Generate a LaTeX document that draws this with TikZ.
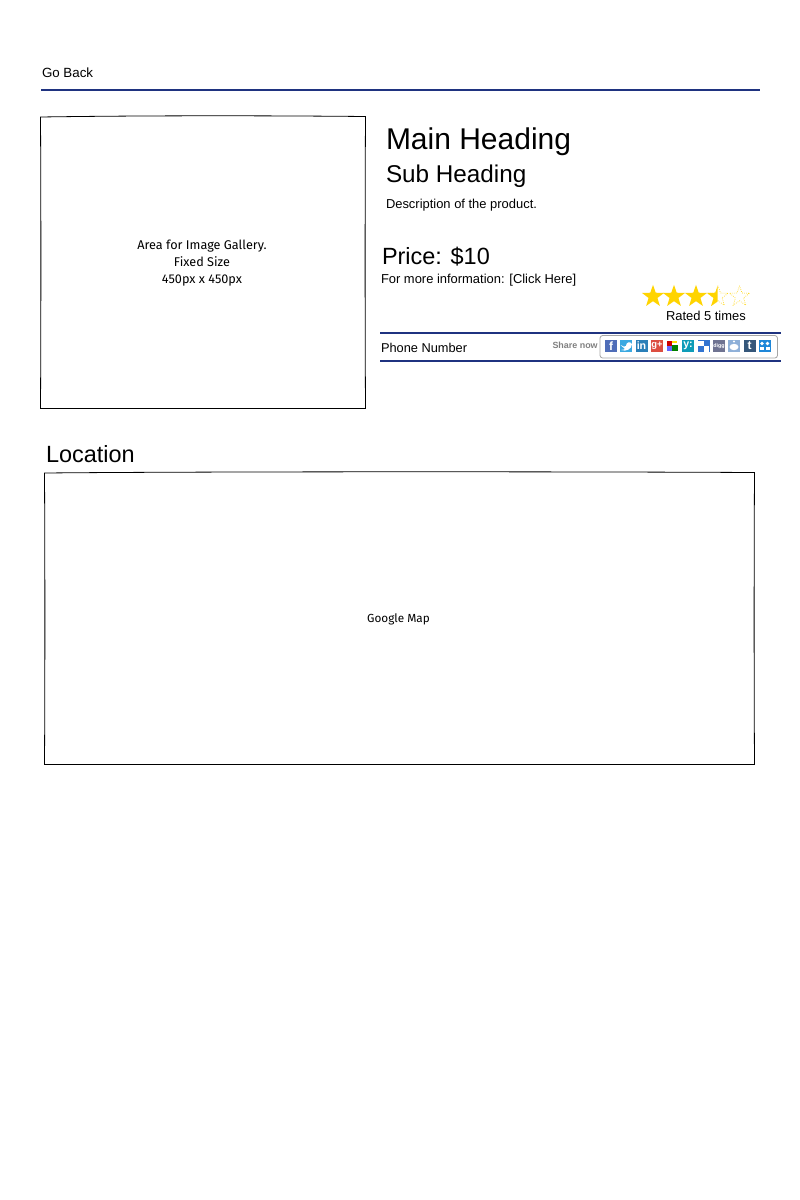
\documentclass[tikz,border=0pt]{standalone}
\usepackage{fontspec}
\setmainfont{Liberation Sans}
\newfontfamily\sketchfont{Fira Sans}
\usetikzlibrary{shapes.geometric}
\definecolor{rulecol}{HTML}{1F3380}
\definecolor{stargold}{HTML}{FFD400}
\tikzset{
  textlabel/.style={inner sep=0pt,outer sep=0pt,anchor=base west,text=black},
  sized/.style={textlabel,font=\fontsize{#1}{#1}\selectfont},
  sketch/.style={inner sep=0pt,align=center,font=\sketchfont\fontsize{#1}{12.8}\selectfont},
  rulebar/.style={draw=rulecol,line width=1.5pt},
  ratestar/.style={star,star points=5,star point ratio=2.5,minimum size=17.5pt,inner sep=0pt,outer sep=0pt},
  emptystar/.style={ratestar,draw=stargold,densely dotted,line width=0.5pt,minimum size=16pt},
  icon/.style={minimum size=9pt,inner sep=0pt,outer sep=0pt,text=white,font=\bfseries\fontsize{#1}{#1}\selectfont},
}
\begin{document}
\begin{tikzpicture}[x=0.75pt,y=-0.75pt]
  \useasboundingbox (0,0) rectangle (800,1200);
  \fill[white] (0,0) rectangle (800,1200);

  % header
  \node[sized=10] (goback) at (42,77) {Go Back};
  \draw[rulebar] (41,90) -- (760,90);

  % gallery box
  \draw[black,line width=0.6pt] (40.5,117) .. controls (140,115.5) and (260,115.5) .. (365.5,116.5)
    .. controls (365,200) and (365,320) .. (365.5,408.5) -- (40.5,408.5)
    .. controls (41,320) and (41,200) .. (40.5,117) -- cycle;
  \node[sketch=9.5] (gallery) at (202,263.5) {Area for Image Gallery.\\Fixed Size\\450px x 450px};

  % product text
  \node[sized=22.5] (mainhead) at (386,149) {Main Heading};
  \node[sized=18.2] (subhead) at (386,182) {Sub Heading};
  \node[sized=9.7] (descr) at (386,208) {Description of the product.};
  \node[sized=17.6] (price) at (382,264) {Price: \$10};
  \node[sized=9.7] (moreinfo) at (381,283) {For more information: [Click Here]};

  % rating
  \foreach \sx in {653,674,696} {
    \node[ratestar,fill=stargold] (star\sx) at (\sx,296.5) {};
  }
  \node[emptystar] (star718) at (718,296.5) {};
  \begin{scope}
    \clip (700,280) rectangle (717.5,312);
    \node[ratestar,fill=stargold] (halfstar) at (718,296.5) {};
  \end{scope}
  \node[emptystar] (star739) at (739.5,296.5) {};
  \node[sized=9.7] (rated) at (666,320) {Rated 5 times};

  % contact bar
  \draw[rulebar] (380,333) -- (781,333);
  \draw[rulebar] (380,361) -- (781,361);
  \node[sized=9.6] (phone) at (381,352) {Phone Number};
  \node[textlabel,text=black!50,font=\bfseries\fontsize{6.7}{7}\selectfont] (share) at (552.5,348) {Share now};
  \draw[black!35,line width=0.6pt,rounded corners=2pt] (600,335.5) rectangle (777.5,358);

  % share icons
  \definecolor{fbcol}{HTML}{4F6DB8}
  \definecolor{twcol}{HTML}{3BA9E1}
  \definecolor{licol}{HTML}{2A7FB8}
  \definecolor{gpcol}{HTML}{DC4E41}
  \definecolor{yacol}{HTML}{0E9CB8}
  \definecolor{decol}{HTML}{3274D1}
  \definecolor{dgcol}{HTML}{6F7391}
  \definecolor{rdcol}{HTML}{8FB0D8}
  \definecolor{tbcol}{HTML}{35577A}
  \definecolor{mscol}{HTML}{1F87D8}
  \node[icon=9,fill=fbcol] (fb) at (611,346) {f};
  \node[icon=8,fill=twcol] (tw) at (626,346) {};
  \fill[white] (620.5,345) .. controls (623,347) and (625,347) .. (626,346)
    .. controls (626,342) and (630,341) .. (632,344)
    .. controls (632,349) and (626,352) .. (621,350)
    .. controls (624,350) and (624,349) .. (625,349) -- cycle;
  \node[icon=8,fill=licol] (li) at (641.5,346) {in};
  \node[icon=7,fill=gpcol] (gp) at (657,346) {g+};
  \node[icon=7,fill=white] (gl) at (672.5,346) {};
  \fill[red!80!black] (667,341) rectangle (672,346);
  \fill[yellow!80!orange] (672,341) rectangle (677,343);
  \fill[blue!60] (667,346) rectangle (672,351);
  \fill[green!50!black] (672,345) rectangle (678,351);
  \node[icon=8,fill=yacol] (ya) at (688,346) {y:};
  \node[icon=7,fill=decol] (de) at (703.5,346) {};
  \fill[white] (703.5,346) rectangle (709,351.5);
  \fill[white] (698,340.5) rectangle (703.5,346);
  \node[icon=4,fill=dgcol] (dg) at (719,346) {digg};
  \node[icon=7,fill=rdcol] (rd) at (734,346) {};
  \fill[white] (734,347) ellipse (4.5 and 3.2);
  \fill[white] (734,341.5) circle (1.2);
  \node[icon=9,fill=tbcol] (tb) at (749.5,346) {t};
  \node[icon=7,fill=mscol] (ms) at (765,346) {};
  \foreach \mx/\my in {762/343.5,767.5/343.5} {
    \fill[white] (\mx,\my) circle (1.8);
    \fill[white] (\mx-2,\my+3.5) rectangle (\mx+2,\my+6.5);
  }

  % location
  \node[sized=17.6] (location) at (46,462) {Location};
  \draw[black,line width=0.6pt] (44.5,473) .. controls (200,471.5) and (560,471.5) .. (754.5,472.5)
    .. controls (754,560) and (754,680) .. (754.5,764.5) -- (44.5,764.5)
    .. controls (45,680) and (45,560) .. (44.5,473) -- cycle;
  \node[sketch=8.8] (map) at (398.5,619.5) {Google Map};
\end{tikzpicture}
\end{document}
